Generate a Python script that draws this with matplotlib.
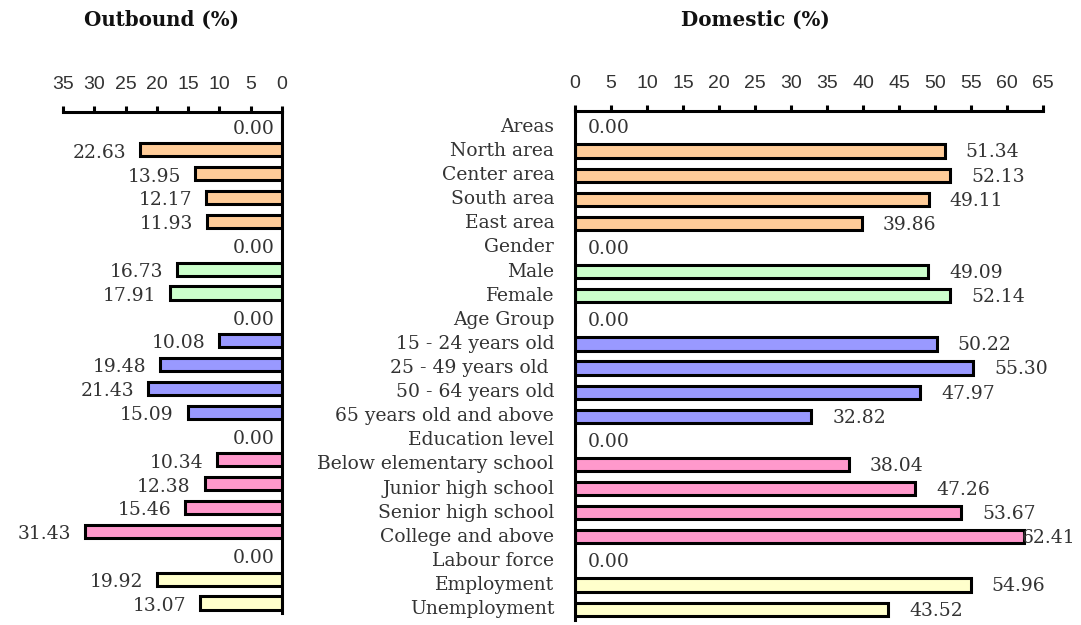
import matplotlib
matplotlib.use("Agg")
import matplotlib.pyplot as plt
import numpy as np

categories = ["Areas", "North area", "Center area", "South area", "East area",
              "Gender", "Male", "Female",
              "Age Group", "15 - 24 years old", "25 - 49 years old ", "50 - 64 years old", "65 years old and above",
              "Education level", "Below elementary school", "Junior high school", "Senior high school", "College and above",
              "Labour force", "Employment", "Unemployment"]
outbound = [0.00, 22.63, 13.95, 12.17, 11.93,
            0.00, 16.73, 17.91,
            0.00, 10.08, 19.48, 21.43, 15.09,
            0.00, 10.34, 12.38, 15.46, 31.43,
            0.00, 19.92, 13.07]
domestic = [0.00, 51.34, 52.13, 49.11, 39.86,
            0.00, 49.09, 52.14,
            0.00, 50.22, 55.30, 47.97, 32.82,
            0.00, 38.04, 47.26, 53.67, 62.41,
            0.00, 54.96, 43.52]
group_sizes = [5, 3, 5, 5, 3]
group_colors = ["#FFCC99", "#CCFFCC", "#9999FF", "#FF99CC", "#FFFFCC"]

colors = []
for n, c in zip(group_sizes, group_colors):
    colors += [c] * n

W, H = 1081, 625
fig = plt.figure(figsize=(W / 100, H / 100), dpi=100)

# left (outbound) axes
lt, lb = 1 - 112 / H, 1 - 613 / H
axL = fig.add_axes([63 / W, lb, (282 - 63) / W, lt - lb])
# right (domestic) axes
rt, rb = 1 - 111 / H, 1 - 620 / H
axR = fig.add_axes([575 / W, rb, (1043 - 575) / W, rt - rb])

y = np.arange(len(categories))
bar_h = 0.55
ew = 2.2
serif = "DejaVu Serif"
txtc = "#333333"
valfont = dict(family=serif, size=13.5, color=txtc)

axL.barh(y, outbound, height=bar_h, color=colors, edgecolor="black", linewidth=ew)
axR.barh(y, domestic, height=bar_h, color=colors, edgecolor="black", linewidth=ew)

for ax in (axL, axR):
    ax.xaxis.set_ticks_position("top")
    ax.tick_params(axis="x", direction="out", length=4, width=2.2, pad=10,
                   labelsize=14, labelcolor=txtc)
    ax.spines["bottom"].set_visible(False)
    ax.spines["top"].set_linewidth(2.2)

axL.set_xlim(35, 0)
axL.set_xticks(np.arange(0, 36, 5))
axL.spines["left"].set_visible(False)
axL.spines["right"].set_linewidth(2.2)
axL.set_yticks([])
axL.set_ylim(20.42, -0.59)

axR.set_xlim(0, 65)
axR.set_xticks(np.arange(0, 66, 5))
axR.spines["right"].set_visible(False)
axR.spines["left"].set_linewidth(2.2)
axR.set_ylim(20.45, -0.66)
axR.set_yticks(y)
axR.set_yticklabels(categories, family=serif, size=13.5, color=txtc)
axR.tick_params(axis="y", length=0, pad=15)
for lab in axR.get_yticklabels():
    lab.set_verticalalignment("center")

for ax in (axL, axR):
    for lab in ax.get_xticklabels():
        lab.set_family("Liberation Sans")

for i, v in enumerate(outbound):
    dx = -5 if v == 0 else -10
    axL.annotate(f"{v:.2f}", (v, i), xytext=(dx, -2), textcoords="offset points",
                 ha="right", va="center", **valfont)

for i, v in enumerate(domestic):
    if v == 0:
        dx = 9
    elif v > 60:
        dx = -2
    else:
        dx = 15
    axR.annotate(f"{v:.2f}", (v, i), xytext=(dx, -1), textcoords="offset points",
                 ha="left", va="center", **valfont)

fig.text(161 / W, 1 - 20 / H, "Outbound (%)", ha="center", va="center",
         family=serif, weight="bold", size=14.3, color="#111111")
fig.text(755 / W, 1 - 20 / H, "Domestic (%)", ha="center", va="center",
         family=serif, weight="bold", size=14.3, color="#111111")

fig.savefig("out.png", dpi=100)
